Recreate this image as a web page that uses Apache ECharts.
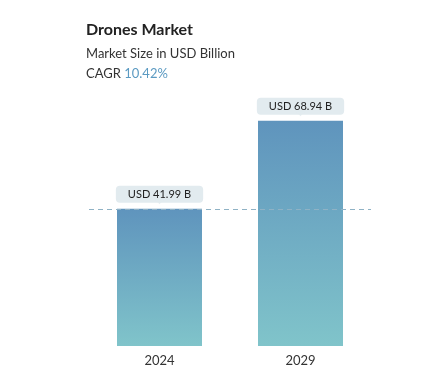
<!DOCTYPE html>
<html><head><meta charset="utf-8">
<style>html,body{margin:0;padding:0;background:#fff;}#c{width:437px;height:372px;}</style>
<script src="https://cdn.jsdelivr.net/npm/echarts@6/dist/echarts.min.js"></script>
</head><body><div id="c"></div>
<script>
const categories = ['2024', '2029'];
const values = [41.99, 68.94];
const labels = ['USD 41.99 B', 'USD 68.94 B'];
const title = 'Drones Market';
const subtitle = 'Market Size in USD Billion';
const cagr = '10.42%';

const chart = echarts.init(document.getElementById('c'));
const grad = new echarts.graphic.LinearGradient(0, 0, 0, 1, [
  {offset: 0, color: '#5f94bd'},
  {offset: 1, color: '#80c4ca'}
]);
chart.setOption({
  animation: false,
  title: {
    text: title,
    subtext: '{a|' + subtitle + '}\n{b|CAGR }{c|' + cagr + '}',
    left: 81, top: 17, itemGap: 6,
    textStyle: {fontFamily: 'Lato', fontSize: 16, fontWeight: 'bold', color: '#222'},
    subtextStyle: {
      fontFamily: 'Lato', lineHeight: 20,
      rich: {
        a: {fontSize: 13, color: '#333', fontFamily: 'Lato', lineHeight: 20},
        b: {fontSize: 13, color: '#333', fontFamily: 'Lato', lineHeight: 20},
        c: {fontSize: 13, color: '#5b9ac2', fontFamily: 'Lato', lineHeight: 20}
      }
    }
  },
  grid: {left: 89, right: 66, top: 101, bottom: 26},
  xAxis: {
    type: 'category', data: categories,
    axisLine: {show: false}, axisTick: {show: false},
    axisLabel: {fontFamily: 'Lato', fontSize: 13, color: '#333', margin: 8}
  },
  yAxis: {type: 'value', min: 0, max: 75, show: false, splitLine: {show: false}},
  series: [{
    type: 'bar', data: values, barWidth: 85,
    itemStyle: {color: grad},
    label: {
      show: true, position: 'top', distance: 6,
      formatter: p => labels[p.dataIndex],
      fontFamily: 'Lato', fontSize: 11, color: '#222',
      backgroundColor: '#e2ebef', borderRadius: 4,
      padding: [3, 12, 3, 12]
    },
    markLine: {
      silent: true, symbol: 'none',
      label: {show: false},
      lineStyle: {color: '#8fb2c5', type: [5, 4], width: 1},
      data: [{yAxis: values[0]}]
    }
  }, {
    type: 'scatter', data: values, symbol: 'triangle', symbolRotate: 180,
    symbolSize: [9, 5], symbolOffset: [0, -7], silent: true,
    itemStyle: {color: '#e2ebef'}, z: 5
  }]
});
</script></body></html>
